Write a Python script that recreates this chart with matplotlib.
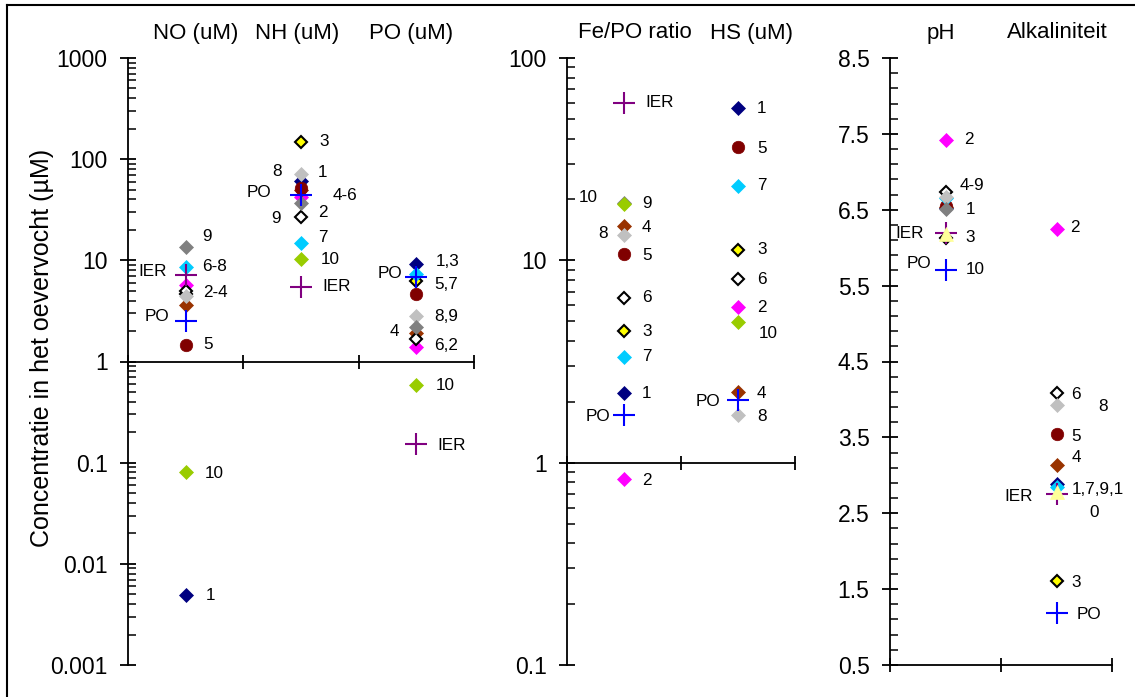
import numpy as np
import matplotlib
matplotlib.use("Agg")
import matplotlib.pyplot as plt
from matplotlib.ticker import LogLocator, FuncFormatter, FixedLocator, NullFormatter
from matplotlib.lines import Line2D

plt.rcParams['font.family'] = ['Liberation Sans', 'DejaVu Sans']

nan = np.nan
# ---------------- data ----------------
samples = ['1', '2', '3', '4', '5', '6', '7', '8', '9', '10', 'PO', 'IER', 'tri']

# panel 1 (log, uM)
no_um = [0.0049, 5.7, 4.6, 3.6, 1.47, 5.0, 8.6, 4.4, 13.7, 0.080, 2.5, 7.2, nan]
nh_um = [61, 42, 148, 50, 52, 26.6, 14.8, 71, 36.6, 10.3, 44, 5.4, nan]
po_um = [9.2, 1.40, 6.2, 1.92, 4.7, 1.65, 7.4, 2.8, 2.2, 0.59, 6.9, 0.152, nan]
# panel 2 (log)
fe_po_ratio = [2.22, 0.83, 4.48, 14.7, 10.7, 6.55, 3.32, 13.3, 19.2, 18.9, 1.72, 60, nan]
hs_um = [56.5, 5.9, 11.3, 2.23, 36.2, 8.1, 23.4, 1.72, nan, 4.97, 2.03, nan, nan]
# panel 3 (linear)
ph = [6.52, 7.42, 6.13, 6.54, 6.55, 6.74, 6.66, 6.67, 6.51, nan, 5.71, 6.20, 6.18]
alkaliniteit = [2.885, 6.24, 1.61, 3.14, 3.54, 4.08, 2.84, 3.93, nan, nan, 1.18, 2.75, 2.78]

titles_p1 = ['NO (uM)', 'NH (uM)', 'PO (uM)']
titles_p2 = ['Fe/PO ratio', 'HS (uM)']
titles_p3 = ['pH', 'Alkaliniteit']

# point labels: (column, text, y value, horizontal offset in px)
labels_p1 = [
    (0, '9', 17.1, 17), (0, '6-8', 8.75, 16), (0, 'IER', 7.8, -19), (0, '2-4', 4.77, 17),
    (0, 'PO', 2.8, -16), (0, '5', 1.47, 18), (0, '10', 0.078, 19), (0, '1', 0.00487, 20),
    (1, '3', 150, 18), (1, '8', 76, -19), (1, '1', 73, 17), (1, 'PO', 46.5, -30),
    (1, '4-6', 44, 32), (1, '9', 25.9, -20), (1, '2', 29.5, 17), (1, '7', 16.7, 17),
    (1, '10', 10.3, 20), (1, 'IER', 5.47, 21),
    (2, '1,3', 9.8, 19), (2, 'PO', 7.36, -14), (2, '5,7', 5.77, 18), (2, '8,9', 2.8, 18),
    (2, '4', 1.99, -17), (2, '6,2', 1.44, 18), (2, '10', 0.58, 19), (2, 'IER', 0.148, 21),
]
labels_p2 = [
    (0, 'IER', 60, 21), (0, '10', 20.4, -26), (0, '9', 19.0, 18), (0, '4', 14.6, 18),
    (0, '8', 13.5, -16), (0, '5', 10.6, 18), (0, '6', 6.55, 18), (0, '3', 4.47, 18),
    (0, '7', 3.34, 18), (0, '1', 2.19, 18), (0, 'PO', 1.70, -14), (0, '2', 0.818, 18),
    (1, '1', 56.5, 19), (1, '5', 35.9, 19), (1, '7', 23.4, 19), (1, '3', 11.3, 19),
    (1, '6', 8.03, 19), (1, '2', 5.83, 19), (1, '10', 4.35, 21), (1, '4', 2.20, 19),
    (1, 'PO', 2.0, -18), (1, '8', 1.70, 19),
]
labels_p3 = [
    (0, '2', 7.42, 19), (0, '4-9', 6.82, 14), (0, '1', 6.50, 20), (0, 'IER', 6.19, -22),
    (0, '3', 6.14, 20), (0, 'PO', 5.79, -14), (0, '10', 5.71, 20),
    (1, '2', 6.27, 14), (1, '6', 4.06, 15), (1, '8', 3.91, 42), (1, '5', 3.51, 15),
    (1, '4', 3.24, 15), (1, '1,7,9,1', 2.81, 15), (1, '0', 2.51, 33), (1, 'IER', 2.72, -24),
    (1, '3', 1.59, 15), (1, 'PO', 1.17, 20),
]

# ---------------- styles ----------------
DMS = 7.2
styles = {
    '1':   dict(marker='D', ms=DMS, mfc='#000080', mec='#000080', mew=0.5),
    '2':   dict(marker='D', ms=DMS, mfc='#FF00FF', mec='#FF00FF', mew=0.5),
    '3':   dict(marker='D', ms=6.4, mfc='#FFFF00', mec='black', mew=1.5),
    '4':   dict(marker='D', ms=DMS, mfc='#993300', mec='#993300', mew=0.5),
    '5':   dict(marker='o', ms=9.0, mfc='#800000', mec='#800000', mew=0.5),
    '6':   dict(marker='D', ms=6.4, mfc='white', mec='black', mew=1.5),
    '7':   dict(marker='D', ms=DMS, mfc='#00CCFF', mec='#00CCFF', mew=0.5),
    '8':   dict(marker='D', ms=DMS, mfc='#C0C0C0', mec='#C0C0C0', mew=0.5),
    '9':   dict(marker='D', ms=DMS, mfc='#808080', mec='#808080', mew=0.5),
    '10':  dict(marker='D', ms=DMS, mfc='#99CC00', mec='#99CC00', mew=0.5),
    'PO':  dict(marker='+', ms=15.5, mfc='none', mec='#0000FF', mew=1.5),
    'IER': dict(marker='+', ms=15.5, mfc='none', mec='#800080', mew=1.5),
    'tri': dict(marker='^', ms=10, mfc='#FFFF99', mec='#FFFF99', mew=0.5),
}

W, H = 1135, 697
fig = plt.figure(figsize=(W / 100, H / 100), dpi=100)


def rect(x0, x1, ytop, ybot):
    return [x0 / W, 1 - ybot / H, (x1 - x0) / W, (ybot - ytop) / H]


ax1 = fig.add_axes(rect(128, 474, 58, 665))
ax2 = fig.add_axes(rect(567, 795, 58, 665))
ax3 = fig.add_axes(rect(890, 1112, 58, 665))

LW = 1.3
TICK_FS = 16.5
LABEL_FS = 12.3


def style_axis(ax, ncols):
    ax.set_facecolor('none')
    for s in ('top', 'right'):
        ax.spines[s].set_visible(False)
    for s in ('left', 'bottom'):
        ax.spines[s].set_linewidth(LW)
    ax.set_xlim(0, ncols)
    ax.set_xticks(range(ncols + 1))
    ax.set_xticklabels([])
    ax.tick_params(axis='x', which='major', direction='inout', length=9.4, width=LW)
    ax.tick_params(axis='y', which='major', direction='inout', length=11.5, width=LW,
                   pad=9, labelsize=TICK_FS)
    ax.tick_params(axis='y', which='minor', direction='in', length=5.8, width=1.1)


def log_axis(ax, lo, hi):
    ax.set_yscale('log')
    ax.set_ylim(lo, hi)
    ax.yaxis.set_major_locator(LogLocator(base=10, numticks=12))
    ax.yaxis.set_minor_locator(LogLocator(base=10, subs=np.arange(2, 10), numticks=12))
    ax.yaxis.set_major_formatter(FuncFormatter(lambda v, _: f'{v:g}'))
    ax.yaxis.set_minor_formatter(NullFormatter())
    ax.spines['bottom'].set_position(('data', 1))


style_axis(ax1, 3)
log_axis(ax1, 0.001, 1000)
style_axis(ax2, 2)
log_axis(ax2, 0.1, 100)
style_axis(ax3, 2)
ax3.set_ylim(0.5, 8.5)
ax3.yaxis.set_major_locator(FixedLocator(np.arange(0.5, 8.51, 1.0)))
ax3.yaxis.set_minor_locator(FixedLocator(np.arange(0.7, 8.5, 0.2)))
ax3.yaxis.set_major_formatter(FuncFormatter(lambda v, _: f'{v:.1f}'))


def draw(ax, columns):
    for ci, col in enumerate(columns):
        for si, name in enumerate(samples):
            v = col[si]
            if v is None or np.isnan(v):
                continue
            ax.plot([ci + 0.5], [v], linestyle='none', clip_on=False, zorder=3,
                    **styles[name])


def annotate(ax, labels):
    for ci, txt, yv, dx in labels:
        ax.annotate(txt, xy=(ci + 0.5, yv), xytext=(dx * 0.72, 0),
                    textcoords='offset points', ha='left' if dx > 0 else 'right',
                    va='center', fontsize=LABEL_FS, annotation_clip=False)


draw(ax1, [no_um, nh_um, po_um])
draw(ax2, [fe_po_ratio, hs_um])
draw(ax3, [ph, alkaliniteit])
annotate(ax1, labels_p1)
annotate(ax2, labels_p2)
annotate(ax3, labels_p3)

# column titles
TITLE_FS = 16
for txt, xpx in zip(titles_p1, [196, 297, 411]):
    fig.text(xpx / W, 1 - 33 / H, txt, ha='center', va='center', fontsize=TITLE_FS)
for txt, xpx in zip(titles_p2, [635, 751]):
    fig.text(xpx / W, 1 - 33 / H, txt, ha='center', va='center', fontsize=TITLE_FS)
for txt, xpx in zip(titles_p3, [941, 1057]):
    fig.text(xpx / W, 1 - 33 / H, txt, ha='center', va='center', fontsize=TITLE_FS)

fig.text(42 / W, 1 - 348 / H, 'Concentratie in het oevervocht (µM)', rotation=90,
         ha='center', va='center', fontsize=18)

# outer frame (left and top edges visible)
fig.add_artist(Line2D([7 / W, 7 / W], [0, 1 - 5 / H], color='black', lw=1.5,
                      transform=fig.transFigure))
fig.add_artist(Line2D([7 / W, 1], [1 - 5 / H, 1 - 5 / H], color='black', lw=1.5,
                      transform=fig.transFigure))

fig.savefig('out.png', dpi=100)
